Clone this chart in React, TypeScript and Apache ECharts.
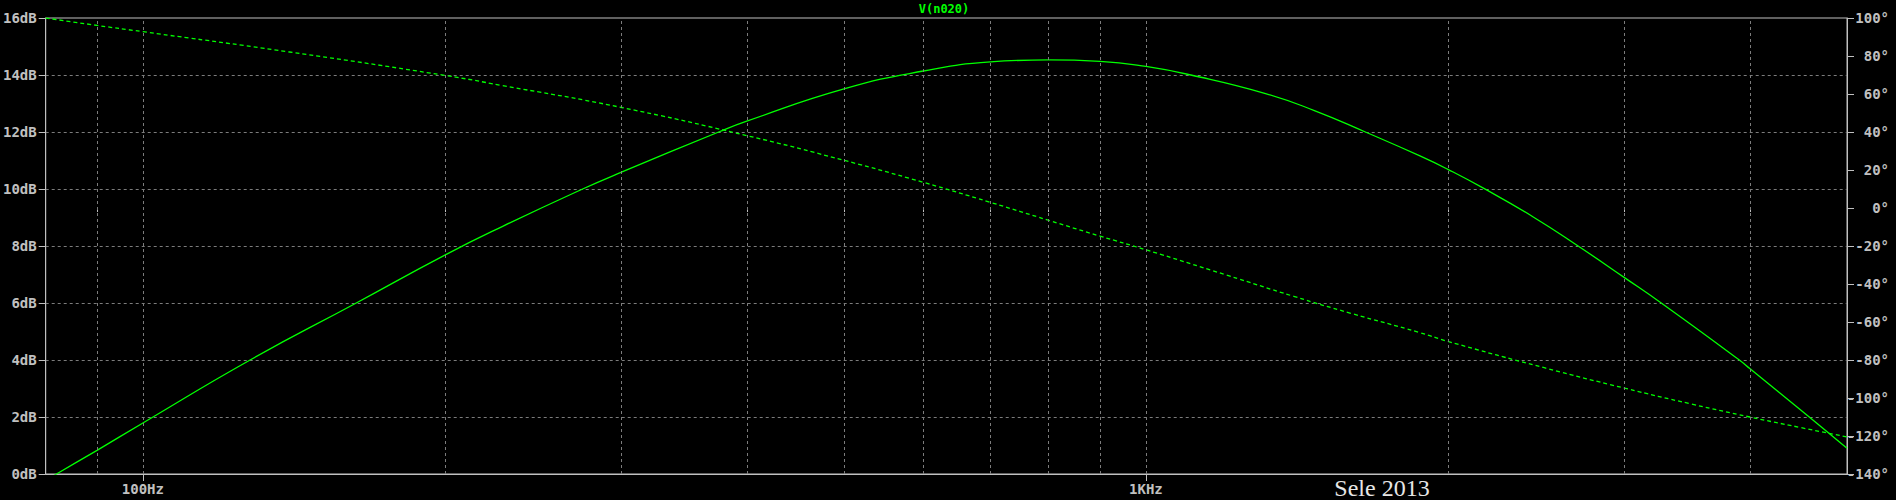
import React, { useEffect, useRef } from "react";
import * as echarts from "echarts";

// Frequency (Hz) and magnitude (dB) of V(n020)
const magFreq = [80, 82, 90, 100, 127.9, 163.2, 200, 228.4, 274.4, 300, 375, 400, 500, 600, 700, 800, 900, 1000, 1108.6, 1316, 1470, 1655, 1876, 2000, 2170, 2433, 2697, 3000, 3264, 3905, 4000, 4585, 5000];
const magDb = [-0.23, 0, 0.83, 1.79, 4.0, 6.0, 7.68, 8.69, 10.0, 10.59, 12.0, 12.38, 13.51, 14.14, 14.46, 14.53, 14.48, 14.3, 14.0, 13.35, 12.76, 12.0, 11.16, 10.69, 10.03, 9.02, 8.0, 6.89, 6.0, 4.0, 3.7, 2.0, 0.9];

// Frequency (Hz) and phase (degrees)
const phaseFreq = [80, 90, 100, 140, 200, 228, 300, 400, 500, 600, 700, 800, 900, 1000, 1200, 1404, 1600, 1876, 2000, 2500, 3000, 3500, 4000, 4500, 5000];
const phaseDeg = [100, 96.1, 92.8, 82.1, 69.8, 64.5, 52.9, 38.1, 25.1, 13.5, 2.95, -6.5, -14.8, -22.0, -35.1, -46.5, -55.4, -65.6, -70.2, -84.2, -94.8, -103.2, -110, -115.6, -120.5];

// Vertical grid frequencies, minor tick frequencies and tick labels
const gridFreqs = [90, 100, 200, 300, 400, 500, 600, 700, 800, 900, 1000, 2000, 3000, 4000];
const minorTickFreqs = [90, 200, 300, 400, 500, 600, 700, 800, 900, 2000, 3000, 4000];
const xTickLabels: Record<number, string> = { 100: "100Hz", 1000: "1KHz" };
const titleText = "V(n020)";
const creditText = "Sele 2013";

const AXIS_COLOR = "#c0c0c0";
const GRID_COLOR = "#7c7c7c";
const TRACE = "#00ff00";
const MONO = "'DejaVu Sans Mono', monospace";

export default function App() {
  const ref = useRef<HTMLDivElement>(null);

  useEffect(() => {
    document.body.style.margin = "0";
    document.body.style.background = "#000";
    if (!ref.current) return;
    const chart = echarts.init(ref.current, undefined, { renderer: "svg" });

    const magData = magFreq.map((f, i) => [f, magDb[i]]);
    const phaseData = phaseFreq.map((f, i) => [f, phaseDeg[i]]);

    chart.setOption({
      animation: false,
      backgroundColor: "#000",
      grid: {
        left: 42,
        right: 49,
        top: 18,
        bottom: 26,
        show: true,
        borderColor: AXIS_COLOR,
        borderWidth: 1,
        backgroundColor: "#000",
      },
      xAxis: [
        {
          type: "log",
          logBase: 10,
          min: 80,
          max: 5000,
          axisLine: { show: true, lineStyle: { color: AXIS_COLOR, width: 1 } },
          axisTick: { show: true, length: 7, lineStyle: { color: AXIS_COLOR } },
          splitLine: { show: false },
          axisLabel: {
            color: AXIS_COLOR,
            fontFamily: MONO,
            fontWeight: "bold",
            fontSize: 14,
            margin: 8,
            showMinLabel: false,
            showMaxLabel: false,
            formatter: (v: number) => xTickLabels[Math.round(v)] || "",
          },
        },
        {
          type: "log",
          logBase: 10,
          min: 80,
          max: 5000,
          position: "bottom",
          axisLine: { show: false },
          axisLabel: { show: false },
          splitLine: { show: false },
          axisTick: {
            show: true,
            length: 4,
            customValues: minorTickFreqs,
            lineStyle: { color: AXIS_COLOR },
          },
        },
      ],
      yAxis: [
        {
          type: "value",
          min: 0,
          max: 16,
          interval: 2,
          position: "left",
          axisLine: { show: true, lineStyle: { color: AXIS_COLOR } },
          axisTick: { show: true, length: 7, lineStyle: { color: AXIS_COLOR } },
          splitLine: {
            show: true,
            showMinLine: false,
            showMaxLine: false,
            lineStyle: { color: GRID_COLOR, type: [3, 3], width: 1 },
          },
          axisLabel: {
            color: AXIS_COLOR,
            fontFamily: MONO,
            fontWeight: "bold",
            fontSize: 14,
            margin: 9,
            formatter: "{value}dB",
          },
        },
        {
          type: "value",
          min: -140,
          max: 100,
          interval: 20,
          position: "right",
          axisLine: { show: true, lineStyle: { color: AXIS_COLOR } },
          axisTick: { show: true, length: 7, lineStyle: { color: AXIS_COLOR } },
          splitLine: { show: false },
          axisLabel: {
            color: AXIS_COLOR,
            fontFamily: MONO,
            fontWeight: "bold",
            fontSize: 14,
            margin: 42,
            align: "right",
            formatter: "{value}°",
          },
        },
      ],
      series: [
        {
          name: "grid",
          type: "line",
          data: [],
          z: 1,
          silent: true,
          markLine: {
            silent: true,
            symbol: ["none", "none"],
            label: { show: false },
            lineStyle: { color: GRID_COLOR, type: [3, 3], width: 1 },
            data: gridFreqs.map((f) => ({ xAxis: f })),
          },
        },
        {
          name: "magnitude",
          type: "line",
          yAxisIndex: 0,
          data: magData,
          showSymbol: false,
          smooth: 0.5,
          clip: true,
          z: 3,
          lineStyle: { color: TRACE, width: 1.3 },
        },
        {
          name: "phase",
          type: "line",
          yAxisIndex: 1,
          data: phaseData,
          showSymbol: false,
          smooth: 0.5,
          clip: true,
          z: 3,
          lineStyle: { color: TRACE, width: 1.3, type: [4, 3] },
        },
      ],
      graphic: [
        {
          type: "text",
          x: 944,
          y: 9,
          style: {
            text: titleText,
            fill: TRACE,
            font: "bold 12px 'DejaVu Sans Mono', monospace",
            align: "center",
            verticalAlign: "middle",
          },
        },
        {
          type: "text",
          x: 1382,
          y: 488,
          style: {
            text: creditText,
            fill: "#e6e6e6",
            font: "24px 'Liberation Serif', serif",
            align: "center",
            verticalAlign: "middle",
          },
        },
      ],
    });

    return () => chart.dispose();
  }, []);

  return (
    <div
      ref={ref}
      style={{ position: "absolute", left: 0, top: 0, width: 1896, height: 500, background: "#000" }}
    />
  );
}
